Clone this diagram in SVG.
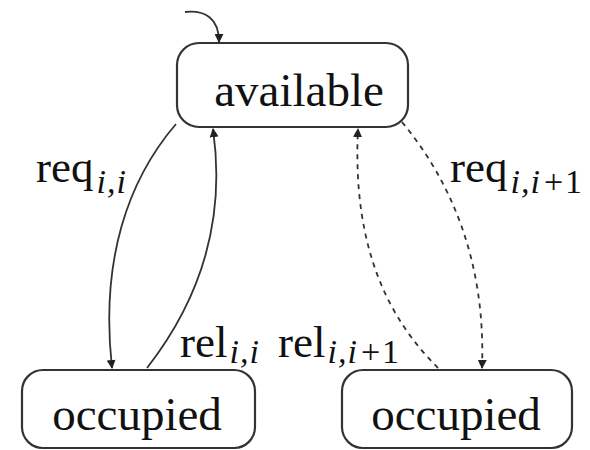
<svg xmlns="http://www.w3.org/2000/svg" width="590" height="450" viewBox="0 0 590 450">
  <defs>
    <marker id="arrow" viewBox="0 0 10 10" refX="9" refY="5" markerWidth="9" markerHeight="9" markerUnits="userSpaceOnUse" orient="auto">
      <path d="M0,0 L10,5 L0,10 Z" fill="#222"/>
    </marker>
    <style>
      .state { fill: #fff; stroke: #333; stroke-width: 2.2; }
      .name { font-family: "Liberation Serif", "DejaVu Serif", serif; font-size: 47px; fill: #111; text-anchor: middle; }
      .edge { fill: none; stroke: #333; stroke-width: 1.8; marker-end: url(#arrow); }
      .dashed { stroke-dasharray: 5 5; }
      .lbl { font-family: "Liberation Serif", "DejaVu Serif", serif; font-size: 45px; fill: #111; }
      .sub { font-size: 34px; font-style: italic; letter-spacing: 1px; }
      .num { font-style: normal; letter-spacing: 0; }
    </style>
  </defs>
  <rect width="590" height="450" fill="#fff"/>

  <g id="connectors">
    <!-- initial marker into the available state -->
    <path class="edge" d="M185,12 C205,10 219,18 219,42"/>
    <!-- request / release of lane i -->
    <path class="edge" d="M176,124 C128,180 100,260 112,368"/>
    <path class="edge" d="M147,368 C200,300 226,220 213,129"/>
    <!-- request / release of lane i+1 -->
    <path class="edge dashed" d="M438,368 C390,320 352,250 358,129"/>
    <path class="edge dashed" d="M402,122 C450,180 486,260 482,368"/>
  </g>

  <g id="available">
    <rect class="state" x="177" y="43" width="231" height="84" rx="22"/>
    <text class="name" x="299" y="106">available</text>
  </g>

  <g id="occupied-left">
    <rect class="state" x="22" y="370" width="233" height="78" rx="21"/>
    <text class="name" x="137" y="430">occupied</text>
  </g>

  <g id="occupied-right">
    <rect class="state" x="342" y="370" width="230" height="78" rx="21"/>
    <text class="name" x="456" y="430">occupied</text>
  </g>

  <g id="labels">
    <text class="lbl" x="36" y="182">req<tspan class="sub" dx="3" dy="11">i,i</tspan></text>
    <text class="lbl" x="450" y="182">req<tspan class="sub" dx="3" dy="11">i,i</tspan><tspan class="sub num" dx="3">+</tspan><tspan class="sub num" dx="2">1</tspan></text>
    <text class="lbl" x="180" y="357">rel<tspan class="sub" dx="2" dy="6">i,i</tspan></text>
    <text class="lbl" x="278" y="357">rel<tspan class="sub" dx="2" dy="6">i,i</tspan><tspan class="sub num" dx="3">+</tspan><tspan class="sub num" dx="2">1</tspan></text>
  </g>
</svg>
